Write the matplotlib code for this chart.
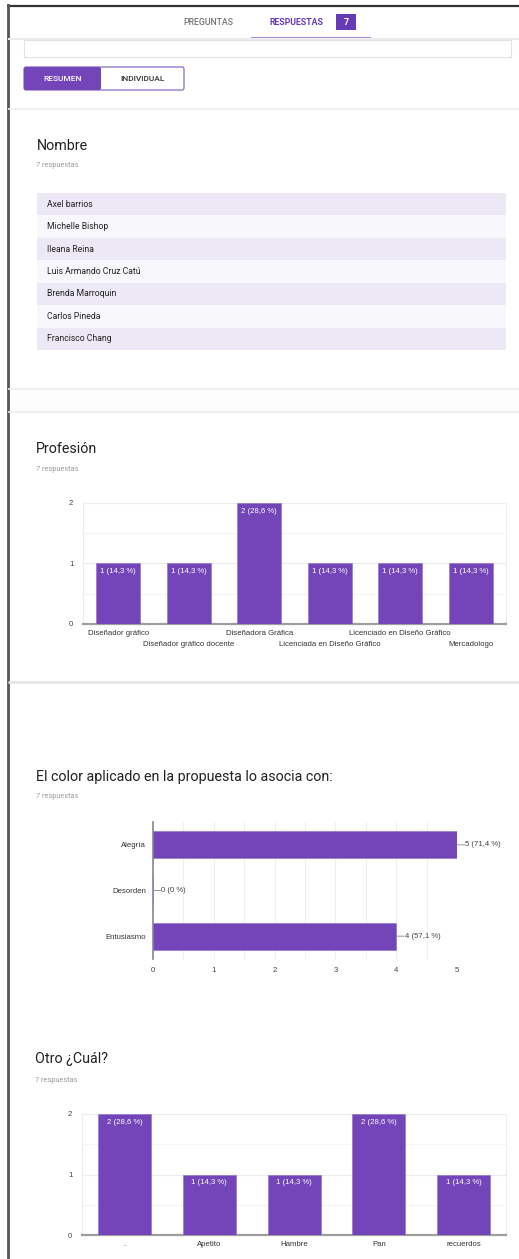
import matplotlib
matplotlib.use("Agg")
import matplotlib.pyplot as plt
from matplotlib.patches import Rectangle, FancyBboxPatch
from matplotlib.lines import Line2D

# ---------------- data ----------------
nombres = ["Axel barrios", "Michelle Bishop", "Ileana Reina", "Luis Armando Cruz Catú",
           "Brenda Marroquin", "Carlos Pineda", "Francisco Chang"]

prof_cats = ["Diseñador gráfico", "Diseñador gráfico docente", "Diseñadora Gráfica",
             "Licenciada en Diseño Gráfico", "Licenciado en Diseño Gráfico", "Mercadologo"]
prof_vals = [1, 1, 2, 1, 1, 1]
prof_lbls = ["1 (14,3 %)", "1 (14,3 %)", "2 (28,6 %)", "1 (14,3 %)", "1 (14,3 %)", "1 (14,3 %)"]

color_cats = ["Alegría", "Desorden", "Entusiasmo"]
color_vals = [5, 0, 4]
color_lbls = ["5 (71,4 %)", "0 (0 %)", "4 (57,1 %)"]

otro_cats = [".", "Apetito", "Hambre", "Pan", "recuerdos"]
otro_vals = [2, 1, 1, 2, 1]
otro_lbls = ["2 (28,6 %)", "1 (14,3 %)", "1 (14,3 %)", "2 (28,6 %)", "1 (14,3 %)"]

titles = ["Nombre", "Profesión", "El color aplicado en la propuesta lo asocia con:", "Otro ¿Cuál?"]
n_resp = "7 respuestas"

# ---------------- style ----------------
PURPLE = "#7345b9"
PAGE_FONT = ["Roboto", "DejaVu Sans"]
CHART_FONT = ["Liberation Sans", "DejaVu Sans"]
W, H = 519, 1259

fig = plt.figure(figsize=(W / 100, H / 100), dpi=100)
fig.patch.set_facecolor("white")

bg = fig.add_axes([0, 0, 1, 1])
bg.set_xlim(0, W)
bg.set_ylim(H, 0)
bg.axis("off")


def pax(x0, y0, x1, y1):
    return fig.add_axes([x0 / W, 1 - y1 / H, (x1 - x0) / W, (y1 - y0) / H])


def hline(y, x0, x1, color, lw):
    bg.add_line(Line2D([x0, x1], [y, y], color=color, lw=lw, solid_capstyle="butt"))


# ---------------- page chrome ----------------
bg.add_patch(Rectangle((8, 389), W, 23, facecolor="#fdfdfd", edgecolor="none"))
hline(6, 7, W, "#333333", 1.6)
bg.add_line(Line2D([7.5, 7.5], [5, H], color="#555555", lw=2.0))

bg.text(208, 22, "PREGUNTAS", ha="center", va="center", fontsize=6.3, color="#757575",
        family=PAGE_FONT, weight="medium")
bg.text(296, 22, "RESPUESTAS", ha="center", va="center", fontsize=6.3, color="#673ab7",
        family=PAGE_FONT, weight="bold")
bg.add_patch(Rectangle((336, 14), 20, 16, facecolor="#673ab7", edgecolor="none"))
bg.text(346, 22, "7", ha="center", va="center", fontsize=6.5, color="white",
        family=PAGE_FONT, weight="bold")
hline(37.5, 251, 371, "#a990d8", 1.6)
hline(39, 8, W, "#ececec", 1.5)
bg.add_patch(Rectangle((24, 40), 487, 16.5, facecolor="white", edgecolor="#e3e3e3", lw=0.8))

bg.add_patch(FancyBboxPatch((24, 67), 160, 23, boxstyle="round,pad=0,rounding_size=2",
                            facecolor="white", edgecolor="#8a6bc9", lw=0.9))
bg.add_patch(FancyBboxPatch((24, 67), 77, 23, boxstyle="round,pad=0,rounding_size=2",
                            facecolor=PURPLE, edgecolor="none"))
bg.text(62.5, 78.5, "RESUMEN", ha="center", va="center", fontsize=6.0, color="white",
        family=PAGE_FONT, weight="medium")
bg.text(142.5, 78.5, "INDIVIDUAL", ha="center", va="center", fontsize=6.0, color="#333333",
        family=PAGE_FONT, weight="medium")

hline(108.5, 8, W, "#efefef", 1.2)
hline(389, 8, W, "#ececec", 1.2)
hline(412, 8, W, "#ececec", 1.2)
hline(681.5, 8, W, "#e6e6e6", 2.0)

# titles
for t, y, yr, x in zip(titles, [145.5, 449, 776.5, 1059.5], [165.5, 469, 796, 1080], [36.5, 35.5, 36, 35]):
    bg.text(x, y, t, ha="left", va="center", fontsize=10.3, color="#212121", family=PAGE_FONT)
    bg.text(x, yr, n_resp, ha="left", va="center", fontsize=5.3, color="#9e9e9e", family=PAGE_FONT)

# ---------------- Nombre list ----------------
axn = pax(37, 193, 506, 350)
axn.set_xlim(0, 1)
axn.set_ylim(len(nombres), 0)
axn.axis("off")
for i, n in enumerate(nombres):
    axn.axhspan(i, i + 1, color="#ede8f6" if i % 2 == 0 else "#f8f7fb", lw=0)
    axn.text(10 / 469, i + 0.5, n, ha="left", va="center", fontsize=6.2, color="#222222",
             family=PAGE_FONT)


def style_vertical(ax, ymax):
    ax.set_ylim(0, ymax)
    ax.set_yticks(range(ymax + 1))
    ax.set_yticks([k + 0.5 for k in range(ymax)], minor=True)
    ax.grid(axis="y", which="major", color="#ebebeb", lw=0.8)
    ax.grid(axis="y", which="minor", color="#f4f4f4", lw=0.8)
    ax.set_axisbelow(True)
    for s in ["top", "right", "left"]:
        ax.spines[s].set_color("#ededed")
        ax.spines[s].set_linewidth(0.8)
    ax.spines["bottom"].set_color("#9e9e9e")
    ax.spines["bottom"].set_linewidth(1.6)
    ax.tick_params(axis="y", which="both", length=0, pad=7, labelsize=5.6, labelcolor="#444444")
    ax.tick_params(axis="x", length=0, labelbottom=False)
    for lab in ax.get_yticklabels():
        lab.set_family(CHART_FONT)


def bar_labels(ax, xs, vals, lbls):
    for x, v, l in zip(xs, vals, lbls):
        ax.annotate(l, (x, v), xytext=(0, -3.5), textcoords="offset points", ha="center",
                    va="top", fontsize=5.6, color="white", family=CHART_FONT)


# ---------------- Profesión ----------------
axp = pax(83, 503, 506, 624)
xs = list(range(len(prof_cats)))
axp.bar(xs, prof_vals, width=0.62, color=PURPLE, edgecolor="#8e6ccc", lw=0.4, zorder=3)
axp.set_xlim(-0.5, len(prof_cats) - 0.5)
style_vertical(axp, 2)
bar_labels(axp, xs, prof_vals, prof_lbls)
for i, c in enumerate(prof_cats):
    axp.annotate(c, (i, 0), xycoords="data", xytext=(0, -6.6 if i % 2 == 0 else -14.7),
                 textcoords="offset points", ha="center", va="center", fontsize=5.6,
                 color="#333333", family=CHART_FONT, annotation_clip=False)

# ---------------- Color ----------------
axc = pax(153, 822, 457, 959)
ys = list(range(len(color_cats)))
axc.barh(ys, color_vals, height=0.59, color=PURPLE, edgecolor="#8e6ccc", lw=0.4, zorder=3)
axc.set_ylim(len(color_cats) - 0.5, -0.5)
axc.set_xlim(0, 5)
axc.set_xticks(range(6))
axc.set_xticks([k + 0.5 for k in range(5)], minor=True)
axc.grid(axis="x", which="both", color="#efefef", lw=0.8)
axc.set_axisbelow(True)
for s in ["top", "right", "bottom"]:
    axc.spines[s].set_visible(False)
axc.spines["left"].set_color("#888888")
axc.spines["left"].set_linewidth(1.2)
axc.set_yticks(ys)
axc.set_yticklabels(color_cats)
axc.tick_params(axis="both", which="both", length=0)
axc.tick_params(axis="y", pad=5, labelsize=5.6, labelcolor="#333333")
axc.tick_params(axis="x", pad=5.5, labelsize=5.6, labelcolor="#444444")
for lab in axc.get_yticklabels() + axc.get_xticklabels():
    lab.set_family(CHART_FONT)
for y, v, l in zip(ys, color_vals, color_lbls):
    axc.annotate("", (v, y), xytext=(5.5, 0), textcoords="offset points",
                 arrowprops=dict(arrowstyle="-", color="#999999", lw=0.7, shrinkA=0, shrinkB=0),
                 annotation_clip=False)
    axc.annotate(l, (v, y), xytext=(6, 0), textcoords="offset points", ha="left", va="center",
                 fontsize=5.6, color="#444444", family=CHART_FONT, annotation_clip=False)

# ---------------- Otro ----------------
axo = pax(82, 1114, 506, 1235)
xs = list(range(len(otro_cats)))
axo.bar(xs, otro_vals, width=0.625, color=PURPLE, edgecolor="#8e6ccc", lw=0.4, zorder=3)
axo.set_xlim(-0.5, len(otro_cats) - 0.5)
style_vertical(axo, 2)
bar_labels(axo, xs, otro_vals, otro_lbls)
for i, c in enumerate(otro_cats):
    axo.annotate(c, (i, 0), xycoords="data", xytext=(0, -6.6), textcoords="offset points",
                 ha="center", va="center", fontsize=5.6, color="#333333", family=CHART_FONT,
                 annotation_clip=False)

fig.savefig("out.png", dpi=100, facecolor="white")
